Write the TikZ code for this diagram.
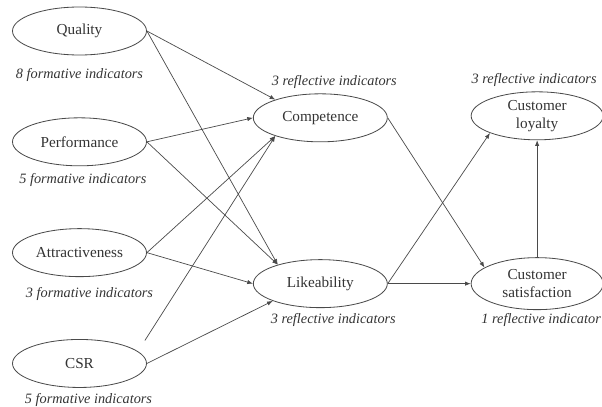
\documentclass[tikz,border=0pt]{standalone}
\usepackage{fontspec}
\setmainfont{Liberation Serif}
\usepackage{tikz}
\usetikzlibrary{arrows.meta, positioning, shapes.geometric}
\definecolor{pmInk}{HTML}{333333}
\definecolor{pmLine}{HTML}{4A4A4A}
\tikzset{
  line/.style={-{Latex[length=1.7mm,width=1.3mm]}, line width=0.6pt, draw=pmLine},
  construct/.style={
    ellipse,
    draw=pmLine,
    line width=0.7pt,
    minimum width=4.02cm,
    minimum height=1.44cm,
    inner sep=0pt,
    align=center,
    text=pmInk,
    font=\fontsize{13}{15.5}\selectfont
  },
  note/.style={
    inner sep=0pt,
    text=pmInk,
    font=\fontsize{12.2}{15}\selectfont\itshape
  }
}

\begin{document}
\begin{tikzpicture}[node distance=1.86cm and 3.18cm]
\useasboundingbox (0,0) rectangle (18.06,-12.21);

\node[construct] (quality) at (2.385,-0.93) {Quality};
\node[construct, below=of quality] (perf) {Performance};
\node[construct, below=of perf] (attr) {Attractiveness};
\node[construct, below=of attr] (csr) {CSR};

\node[construct, right=of attr, yshift=-0.93cm] (like) {Likeability};
\node[construct, above=3.51cm of like] (comp) {Competence};
\node[construct, right=2.49cm of like, minimum width=3.96cm, minimum height=1.56cm] (sat) {Customer\\ satisfaction};
\node[construct, above=3.51cm of sat, minimum width=3.96cm] (loyal) {Customer\\ loyalty};

\node[note, below=0.37cm of quality] (qualityind) {8 formative indicators};
\node[note, below=0.22cm of perf, xshift=0.1cm] (perfind) {5 formative indicators};
\node[note, below=0.31cm of attr, xshift=0.3cm] (attrind) {3 formative indicators};
\node[note, below=0.17cm of csr, xshift=0.27cm] (csrind) {5 formative indicators};
\node[note, above=0.13cm of comp, xshift=0.42cm] (compind) {3 reflective indicators};
\node[note, above=0.13cm of loyal, xshift=-0.09cm] (loyalind) {3 reflective indicators};
\node[note, below=0.16cm of like, xshift=0.39cm] (likeind) {3 reflective indicators};
\node[note, below=0.08cm of sat, xshift=0.12cm] (satind) {1 reflective indicator};

\draw[line] (quality.east) -- (comp.158);
\draw[line] (quality.east) -- (like.156);
\draw[line] (perf.east) -- (comp.west);
\draw[line] (perf.east) -- (like.156);
\draw[line] (attr.east) -- (comp.202);
\draw[line] (attr.east) -- (like.west);
\draw[line] ([xshift=-0.06cm, yshift=0.69cm]csr.east) -- (comp.202);
\draw[line] (csr.east) -- (like.200);

\draw[line] (comp.east) -- (sat.163);
\draw[line] (like.east) -- (loyal.200);
\draw[line] (like.east) -- (sat.west);
\draw[line] (sat.north) -- (loyal.south);

\end{tikzpicture}
\end{document}
